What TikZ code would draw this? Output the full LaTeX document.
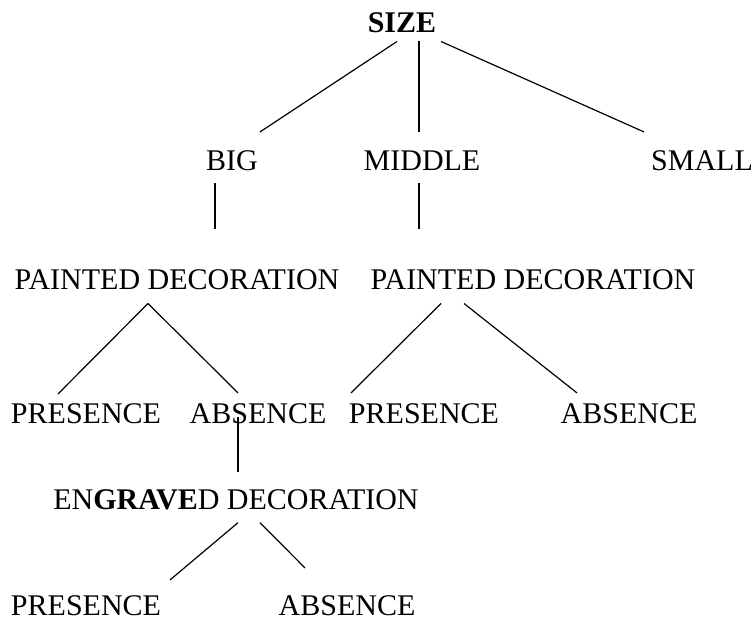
\documentclass[tikz,border=0pt]{standalone}
\usepackage{fontspec}
\setmainfont{Liberation Serif}
\begin{document}
\begin{tikzpicture}[x=1pt,y=-1pt,
  lbl/.style={inner sep=0pt,anchor=base,font=\fontsize{30}{36}\selectfont},
  edge/.style={line width=1.2pt}]
\useasboundingbox (0,0) rectangle (754,619);
% tree labels (x = centre, y = baseline)
\node[lbl] (size)   at (402,32)  {\textbf{SIZE}};
\node[lbl] (big)    at (232,170) {BIG};
\node[lbl] (middle) at (422,170) {MIDDLE};
\node[lbl] (small)  at (702,170) {SMALL};
\node[lbl] (pdl)    at (177,289) {PAINTED DECORATION};
\node[lbl] (pdr)    at (533,289) {PAINTED DECORATION};
\node[lbl] (pre1)   at (86,423)  {PRESENCE};
\node[lbl] (abs1)   at (258,423) {ABSENCE};
\node[lbl] (pre2)   at (424,423) {PRESENCE};
\node[lbl] (abs2)   at (629,423) {ABSENCE};
\node[lbl] (eng)    at (236,509) {EN\textbf{GRAVE}D DECORATION};
\node[lbl] (pre3)   at (86,615)  {PRESENCE};
\node[lbl] (abs3)   at (347,615) {ABSENCE};
% branches
\draw[edge] ([shift={(-5,9)}]size.south)  -- ([shift={(28,-18)}]big.north);
\draw[edge] ([shift={(17,9)}]size.south)  -- ([shift={(-3,-18)}]middle.north);
\draw[edge] ([shift={(39,9)}]size.south)  -- ([shift={(-58,-18)}]small.north);
\draw[edge] ([shift={(-17,13)}]big.south)  -- ([shift={(38,-40)}]pdl.north);
\draw[edge] ([shift={(-3,13)}]middle.south) -- ([shift={(-114,-40)}]pdr.north);
\draw[edge] ([shift={(-29,14)}]pdl.south) -- ([shift={(-28,-9)}]pre1.north);
\draw[edge] ([shift={(-29,14)}]pdl.south) -- ([shift={(-20,-10)}]abs1.north);
\draw[edge] ([shift={(-92,14)}]pdr.south) -- ([shift={(-73,-10)}]pre2.north);
\draw[edge] ([shift={(-69,14)}]pdr.south) -- ([shift={(-52,-10)}]abs2.north);
\draw[edge] ([shift={(-20,14)}]abs1.north) -- ([shift={(2,-17)}]eng.north);
\draw[edge] ([shift={(2,13)}]eng.south)   -- ([shift={(84,-15)}]pre3.north);
\draw[edge] ([shift={(24,13)}]eng.south)  -- ([shift={(-42,-27)}]abs3.north);
\end{tikzpicture}
\end{document}
